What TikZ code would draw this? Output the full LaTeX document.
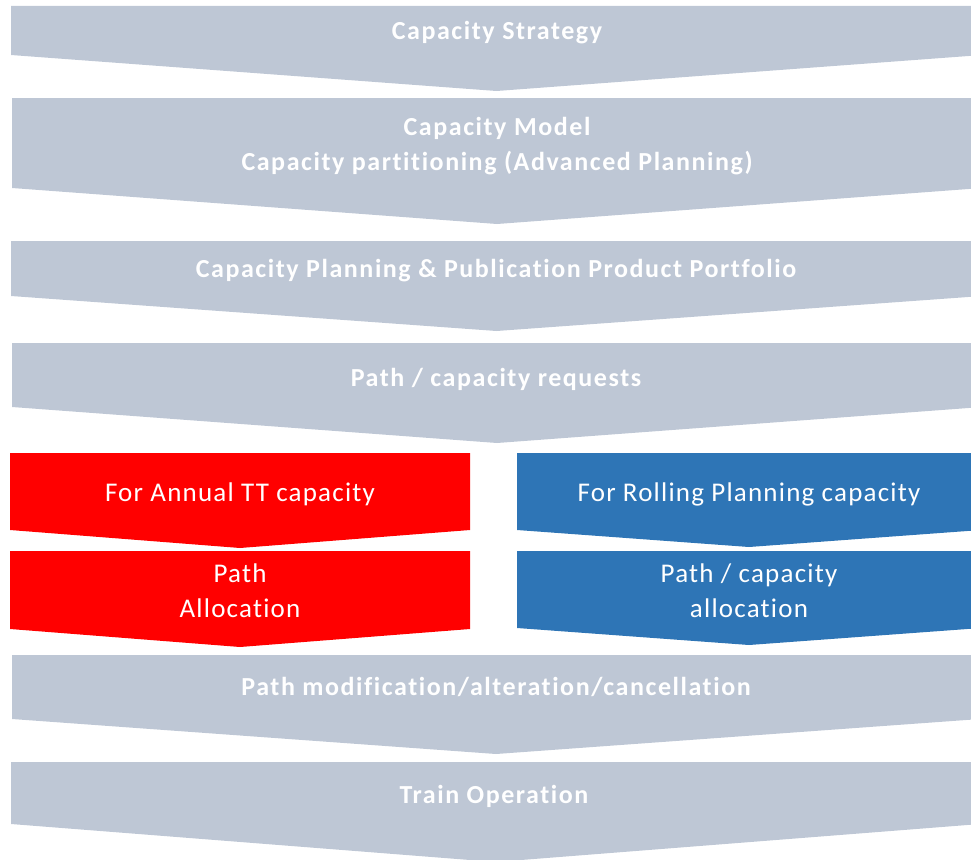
\documentclass[tikz,border=0pt]{standalone}
\usepackage{fontspec}
\setmainfont[Ligatures=NoCommon]{Carlito}
\newfontfamily\stepfont[Ligatures=NoCommon,LetterSpace=6]{Carlito}
\newfontfamily\branchfont[Ligatures=NoCommon,LetterSpace=4.5]{Carlito}
\definecolor{stepgrey}{RGB}{190,199,213}
\definecolor{annualred}{RGB}{255,0,0}
\definecolor{rollingblue}{RGB}{46,117,182}
% chevron pointing down: fill, left, right, top, shoulder, tip
\newcommand\downchevron[6]{%
  \fill[#1] (#2,#4) -- (#3,#4) -- (#3,#5) -- ({(#2+#3)/2},#6) -- (#2,#5) -- cycle;}
\tikzset{
  greylabel/.style={text=white, anchor=base, align=center, inner sep=0pt,
    font=\stepfont\bfseries\fontsize{26}{35}\selectfont},
  colourlabel/.style={text=white, anchor=base, align=center, inner sep=0pt,
    font=\branchfont\fontsize{27}{35}\selectfont},
}
\begin{document}
\begin{tikzpicture}[x=1pt,y=-1pt]
\useasboundingbox (0,0) rectangle (971,859);
\begin{scope}
\clip (0,0) rectangle (971,859);
% main sequence of steps
\downchevron{stepgrey}{11}{982}{6}{55}{91}
\downchevron{stepgrey}{12}{982}{98}{188}{224}
\downchevron{stepgrey}{11}{982}{241}{296}{331}
\downchevron{stepgrey}{12}{982}{343}{407}{443}
% two parallel branches
\downchevron{annualred}{10}{470}{453}{530}{548}
\downchevron{rollingblue}{517}{981}{453}{530}{547}
\downchevron{annualred}{10}{470}{551}{629}{647}
\downchevron{rollingblue}{517}{981}{551}{628}{645}
% closing steps
\downchevron{stepgrey}{12}{980}{655}{719}{754}
\downchevron{stepgrey}{11}{980}{762}{824}{862}
\end{scope}
\node[greylabel] (strategy) at (497,40) {Capacity Strategy};
\node[greylabel] (model) at (497,170) {Capacity Model\\Capacity partitioning (Advanced Planning)};
\node[greylabel] (planning) at (496,277) {Capacity Planning \& Publication Product Portfolio};
\node[greylabel] (requests) at (496,386) {Path / capacity requests};
\node[colourlabel] (annual) at (240,501) {For Annual TT capacity};
\node[colourlabel] (rolling) at (749,501) {For Rolling Planning capacity};
\node[colourlabel] (pathalloc) at (240,617) {Path\\Allocation};
\node[colourlabel] (capalloc) at (749,617) {Path / capacity\\allocation};
\node[greylabel] (modification) at (496,695) {Path modification/alteration/cancellation};
\node[greylabel] (operation) at (494,803) {Train Operation};
\end{tikzpicture}
\end{document}
